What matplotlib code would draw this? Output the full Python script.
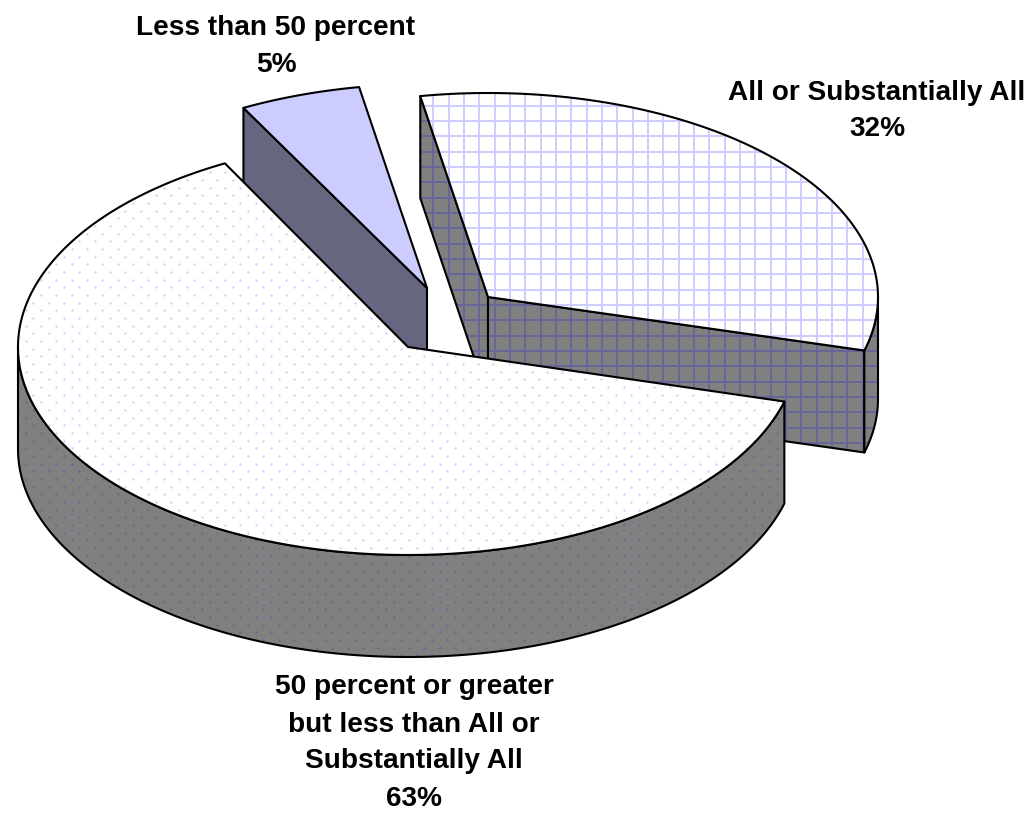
import numpy as np
import matplotlib
matplotlib.use("Agg")
import matplotlib.pyplot as plt
from matplotlib.patches import Polygon
from matplotlib.collections import LineCollection

categories = ["All or Substantially All",
              "50 percent or greater\nbut less than All or\nSubstantially All",
              "Less than 50 percent"]
shares = [32, 63, 5]

# layout and style
START_ANGLE = 100.0
CENTERS = [(488, 297), (408, 347), (427, 288)]
RADII = [(390, 204), (390, 208), (391, 204)]
DEPTH = 102
TOP_FILL = ["#FFFFFF", "#FFFFFF", "#CCCCFF"]
SIDE_FILL = ["#808080", "#808080", "#666680"]
PATTERN = ["grid", "dots", None]
LABEL_POS = [(877, 111), (414, 743), (276, 46.5)]
FONT = "Liberation Sans"
FS = 20.2
LW = 1.5
PITCH = 15.33

plt.rcParams["font.family"] = [FONT, "DejaVu Sans"]
fig = plt.figure(figsize=(10.27, 8.14), dpi=100)
ax = fig.add_axes([0, 0, 1, 1])
ax.set_xlim(0, 1027)
ax.set_ylim(814, 0)
ax.axis("off")


def pt(i, ang, z=0.0):
    cx, cy = CENTERS[i]
    a, b = RADII[i]
    t = np.radians(ang)
    return np.column_stack([cx + a * np.cos(t), cy - b * np.sin(t) + z])


def arc(i, a0, a1, z=0.0):
    n = max(int(abs(a1 - a0) * 2), 2)
    return pt(i, np.linspace(a0, a1, n), z)


def pattern(kind, clip, color, zorder):
    if kind == "grid":
        xs = 433.3 + PITCH * np.arange(-30, 40)
        ys = 259.0 + PITCH * np.arange(-30, 40)
        segs = [[(x, 0), (x, 814)] for x in xs] + [[(0, y), (1027, y)] for y in ys]
        lc = LineCollection(segs, colors=color, linewidths=1.4, zorder=zorder)
        ax.add_collection(lc)
        lc.set_clip_path(clip)
    elif kind == "dots":
        ix, iy = np.meshgrid(np.arange(-10, 70), np.arange(-30, 40))
        x = np.r_[(48.7 + PITCH * ix).ravel(), (48.7 + PITCH / 2 + PITCH * ix).ravel()]
        y = np.r_[(302.7 + PITCH * iy).ravel(), (302.7 + PITCH / 2 + PITCH * iy).ravel()]
        sc = ax.scatter(x, y, s=2.6, color=color, linewidths=0, zorder=zorder)
        sc.set_clip_path(clip)


z_counter = [1]


def face(verts, fill, kind, pcolor):
    z = z_counter[0]
    z_counter[0] += 3
    p = Polygon(verts, closed=True, facecolor=fill, edgecolor="none", zorder=z)
    ax.add_patch(p)
    pattern(kind, p, pcolor, z + 1)
    ax.add_patch(Polygon(verts, closed=True, fill=False, edgecolor="black",
                         linewidth=LW, joinstyle="round", zorder=z + 2))


def slice3d(i, a_start, a_end):
    """a_start > a_end: the slice runs clockwise from a_start to a_end."""
    c = np.array(CENTERS[i], float)
    kind = PATTERN[i]
    side = SIDE_FILL[i]
    top = TOP_FILL[i]
    dark = "#666699"
    light = "#CCCCFF"
    # cut faces whose outward normal points at the viewer
    for ang, normal in ((a_start, a_start + 90), (a_end, a_end - 90)):
        if np.sin(np.radians(normal)) < 0:
            e = pt(i, ang)[0]
            verts = [c, e, e + [0, DEPTH], c + [0, DEPTH]]
            face(verts, side, kind, dark)
    # outer rim: the part of the arc on the near half
    lo = max(a_end, -180.0)
    hi = min(a_start, 0.0)
    if hi > lo:
        upper = arc(i, hi, lo)
        lower = arc(i, lo, hi, DEPTH)
        face(np.vstack([upper, lower]), side, kind, dark)
    # top surface
    verts = np.vstack([[c], arc(i, a_start, a_end)])
    face(verts, top, kind, light)


angles = START_ANGLE - np.r_[0, np.cumsum(shares)] * 3.6
for i in (0, 2, 1):
    slice3d(i, angles[i], angles[i + 1])

for name, share, (x, y) in zip(categories, shares, LABEL_POS):
    ax.text(x, y, f"{name}\n{share}%", ha="center", va="center",
            fontsize=FS, fontweight="bold", family=[FONT, "DejaVu Sans"],
            linespacing=1.55, color="black", zorder=500)

fig.savefig("out.png", dpi=100, facecolor="white")
